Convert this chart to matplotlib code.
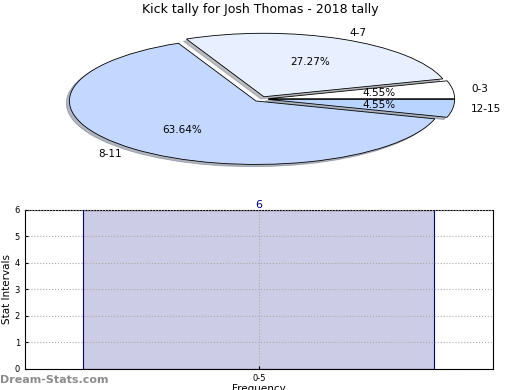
import matplotlib.pyplot as plt

# pie data
pie_labels = ['0-3', '4-7', '8-11', '12-15']
pie_values = [1, 6, 14, 1]
pie_colors = ['#ffffff', '#e8f0ff', '#c4d8ff', '#b8d4ff']

# bar data
bar_cats = ['0-5']
bar_values = [6]

fig = plt.figure(figsize=(5.2, 3.9), dpi=100)

ax1 = fig.add_axes([0.107, 0.567, 0.789, 0.358])
wedges, texts, autotexts = ax1.pie(
    pie_values, labels=pie_labels, colors=pie_colors, autopct='%.2f%%',
    explode=[0.04] * len(pie_values),
    shadow={'ox': -0.012, 'oy': -0.025, 'shade': 0.5}, startangle=0,
    pctdistance=0.6, labeldistance=1.1,
    wedgeprops={'edgecolor': 'black', 'linewidth': 0.6},
    textprops={'fontsize': 7.5})
ax1.set_aspect('auto')
ax1.set_xlim(-1.1, 1.1)
ax1.set_ylim(-1.1, 1.1)
fig.text(0.5, 0.975, 'Kick tally for Josh Thomas - 2018 tally',
         ha='center', va='center', fontsize=9)

ax2 = fig.add_axes([0.048, 0.054, 0.9, 0.408])
bars = ax2.bar(range(len(bar_cats)), bar_values, width=0.75,
               color='#ccccE6', edgecolor='#000080', linewidth=0.8, zorder=2)
for i, v in enumerate(bar_values):
    ax2.text(i, v, str(v), ha='center', va='bottom', color='#000080', fontsize=8)
ax2.set_xlim(-0.5, len(bar_cats) - 0.5)
ax2.set_ylim(0, 6)
ax2.set_xticks(range(len(bar_cats)))
ax2.set_xticklabels(bar_cats)
ax2.set_yticks(range(0, 7))
ax2.tick_params(labelsize=6, length=2, direction='in')
ax2.grid(True, linestyle=':', color='#aaaaaa', linewidth=0.8, zorder=3)
ax2.set_axisbelow(False)
ax2.set_ylabel('Stat Intervals', fontsize=7.5, labelpad=2)
ax2.set_xlabel('Frequency', fontsize=7.5, labelpad=1)

fig.text(0.0, 0.025, 'Dream-Stats.com', color='#8c8c8c', fontsize=8,
         fontweight='semibold', ha='left', va='center')

fig.savefig('out.png', dpi=100)
